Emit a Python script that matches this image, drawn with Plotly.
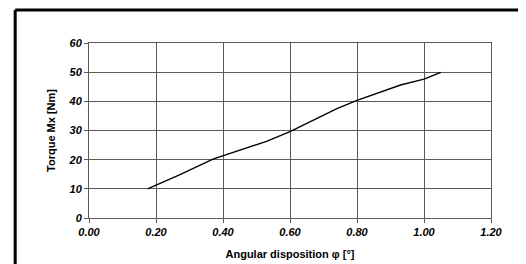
import plotly.graph_objects as go

angle = [0.175, 0.27, 0.37, 0.45, 0.53, 0.60, 0.67, 0.74, 0.80, 0.87, 0.93, 1.00, 1.05]
torque = [10.0, 14.8, 20.2, 23.2, 26.3, 29.6, 33.5, 37.5, 40.3, 43.3, 45.6, 47.6, 49.9]

x_ticks = [0.0, 0.2, 0.4, 0.6, 0.8, 1.0, 1.2]
x_tick_labels = ["0.00", "0.20", "0.40", "0.60", "0.80", "1.00", "1.20"]
y_ticks = [0, 10, 20, 30, 40, 50, 60]

FONT = "Liberation Sans, Arial, sans-serif"

fig = go.Figure()
fig.add_trace(go.Scatter(x=angle, y=torque, mode="lines",
                         line=dict(color="black", width=1.4), showlegend=False))

fig.update_layout(
    width=518, height=256,
    margin=dict(l=81, r=35, t=35, b=46),
    paper_bgcolor="white", plot_bgcolor="white",
    font=dict(family=FONT, color="black"),
    xaxis=dict(range=[0, 1.2], tickvals=x_ticks, ticktext=x_tick_labels,
               automargin=False,
               showgrid=True, gridcolor="#5a5a5a", gridwidth=1,
               showline=True, linecolor="#5a5a5a", linewidth=1, mirror=True,
               ticks="outside", ticklen=4, tickcolor="#5a5a5a",
               tickfont=dict(size=11, weight="bold", style="italic", family=FONT),
               zeroline=False,
               title=dict(text="Angular disposition φ [°]", standoff=13,
                          font=dict(size=11, weight="bold", family=FONT))),
    yaxis=dict(range=[0, 60], tickvals=y_ticks,
               automargin=False,
               showgrid=True, gridcolor="#5a5a5a", gridwidth=1,
               showline=True, linecolor="#5a5a5a", linewidth=1, mirror=True,
               ticks="outside", ticklen=4, tickcolor="#5a5a5a",
               tickfont=dict(size=11, weight="bold", style="italic", family=FONT),
               zeroline=False,
               title=dict(text="Torque Mx [Nm]", standoff=10,
                          font=dict(size=11, weight="bold", family=FONT))),
)

# outer frame (top and left edges visible)
fig.add_shape(type="line", xref="paper", yref="paper",
              x0=-0.1836, x1=1.2, y0=1.188, y1=1.188,
              line=dict(color="black", width=3))
fig.add_shape(type="line", xref="paper", yref="paper",
              x0=-0.1836, x1=-0.1836, y0=1.188, y1=-0.4,
              line=dict(color="black", width=3))

fig.write_html("out.html")
